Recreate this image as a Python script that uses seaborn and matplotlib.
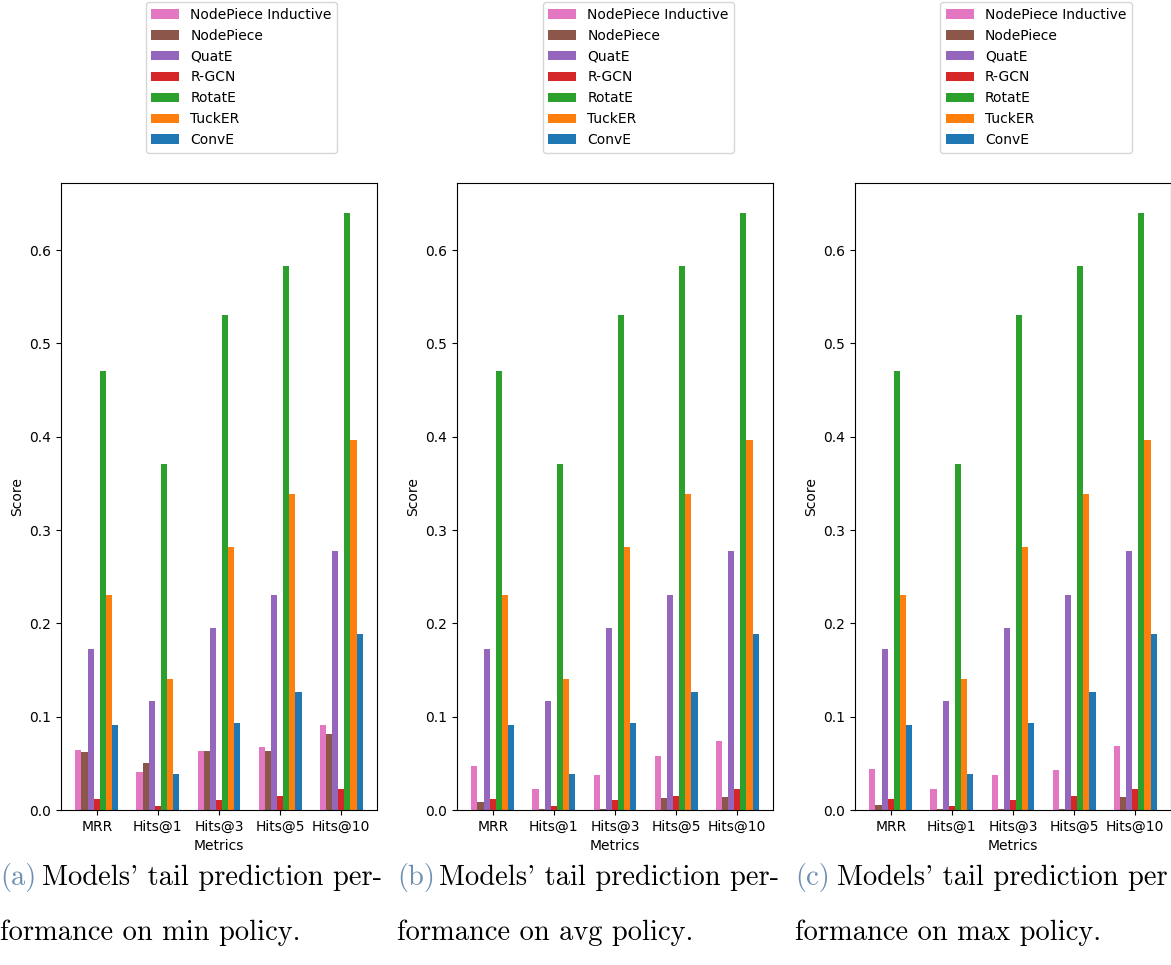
import numpy as np
import pandas as pd
import matplotlib
matplotlib.use("Agg")
import matplotlib.pyplot as plt
import seaborn as sns

metrics = ["MRR", "Hits@1", "Hits@3", "Hits@5", "Hits@10"]
models = ["NodePiece Inductive", "NodePiece", "QuatE", "R-GCN",
          "RotatE", "TuckER", "ConvE"]
colors = ["#e377c2", "#8c564b", "#9467bd", "#d62728",
          "#2ca02c", "#ff7f0e", "#1f77b4"]

# scores shared by all three policies
quate = [0.173, 0.117, 0.195, 0.230, 0.278]
rgcn = [0.012, 0.004, 0.011, 0.015, 0.023]
rotate = [0.470, 0.371, 0.531, 0.583, 0.640]
tucker = [0.230, 0.140, 0.282, 0.339, 0.397]
conve = [0.091, 0.039, 0.093, 0.127, 0.189]

# NodePiece scores per policy
np_ind_min = [0.064, 0.041, 0.063, 0.068, 0.091]
np_min = [0.062, 0.050, 0.063, 0.063, 0.081]
np_ind_avg = [0.047, 0.022, 0.037, 0.058, 0.074]
np_avg = [0.009, 0.001, 0.001, 0.013, 0.014]
np_ind_max = [0.044, 0.022, 0.037, 0.043, 0.069]
np_max = [0.005, 0.001, 0.001, 0.001, 0.014]

policies = ["min", "avg", "max"]
tags = ["(a)", "(b)", "(c)"]
nodepiece = {"min": (np_ind_min, np_min), "avg": (np_ind_avg, np_avg),
             "max": (np_ind_max, np_max)}


def frame(policy):
    ind, plain = nodepiece[policy]
    cols = [ind, plain, quate, rgcn, rotate, tucker, conve]
    rows = []
    for model, vals in zip(models, cols):
        for m, v in zip(metrics, vals):
            rows.append({"Metrics": m, "Model": model, "Score": v})
    return pd.DataFrame(rows)


W, H = 1171, 965
fig = plt.figure(figsize=(W / 100, H / 100), dpi=100)
lefts = [61, 457, 855]
aw, ab, ah = 316, 155, 627
legend_cx = [241.5, 638.5, 1036]
cap_x = [0, 397, 795]
cap = dict(family="cmr10", fontsize=20.5, va="baseline")

for i, policy in enumerate(policies):
    ax = fig.add_axes([lefts[i] / W, ab / H, aw / W, ah / H])
    sns.barplot(data=frame(policy), x="Metrics", y="Score", hue="Model",
                hue_order=models, palette=colors, saturation=1,
                errorbar=None, width=0.7, ax=ax)
    ax.set_xlim(-0.585, 4.585)
    ax.set_ylim(0, 0.672)
    ax.set_yticks(np.arange(0, 0.61, 0.1))
    h, l = ax.get_legend_handles_labels()
    ax.get_legend().remove()
    ax.legend(h, l, loc="upper center", borderaxespad=0,
              bbox_to_anchor=(legend_cx[i] / W, 1 - 2 / H),
              bbox_transform=fig.transFigure)

    # caption in a LaTeX-like serif
    fig.text(cap_x[i] / W, 1 - 885 / H, tags[i], color="#6d8fb2", **cap)
    fig.text((cap_x[i] + 42) / W, 1 - 885 / H,
             "Models' tail prediction per-" if i < 2
             else "Models' tail prediction per", **cap)
    fig.text(cap_x[i] / W, 1 - 940 / H, f"formance on {policy} policy.",
             **cap)

fig.savefig("out.png", dpi=100)
